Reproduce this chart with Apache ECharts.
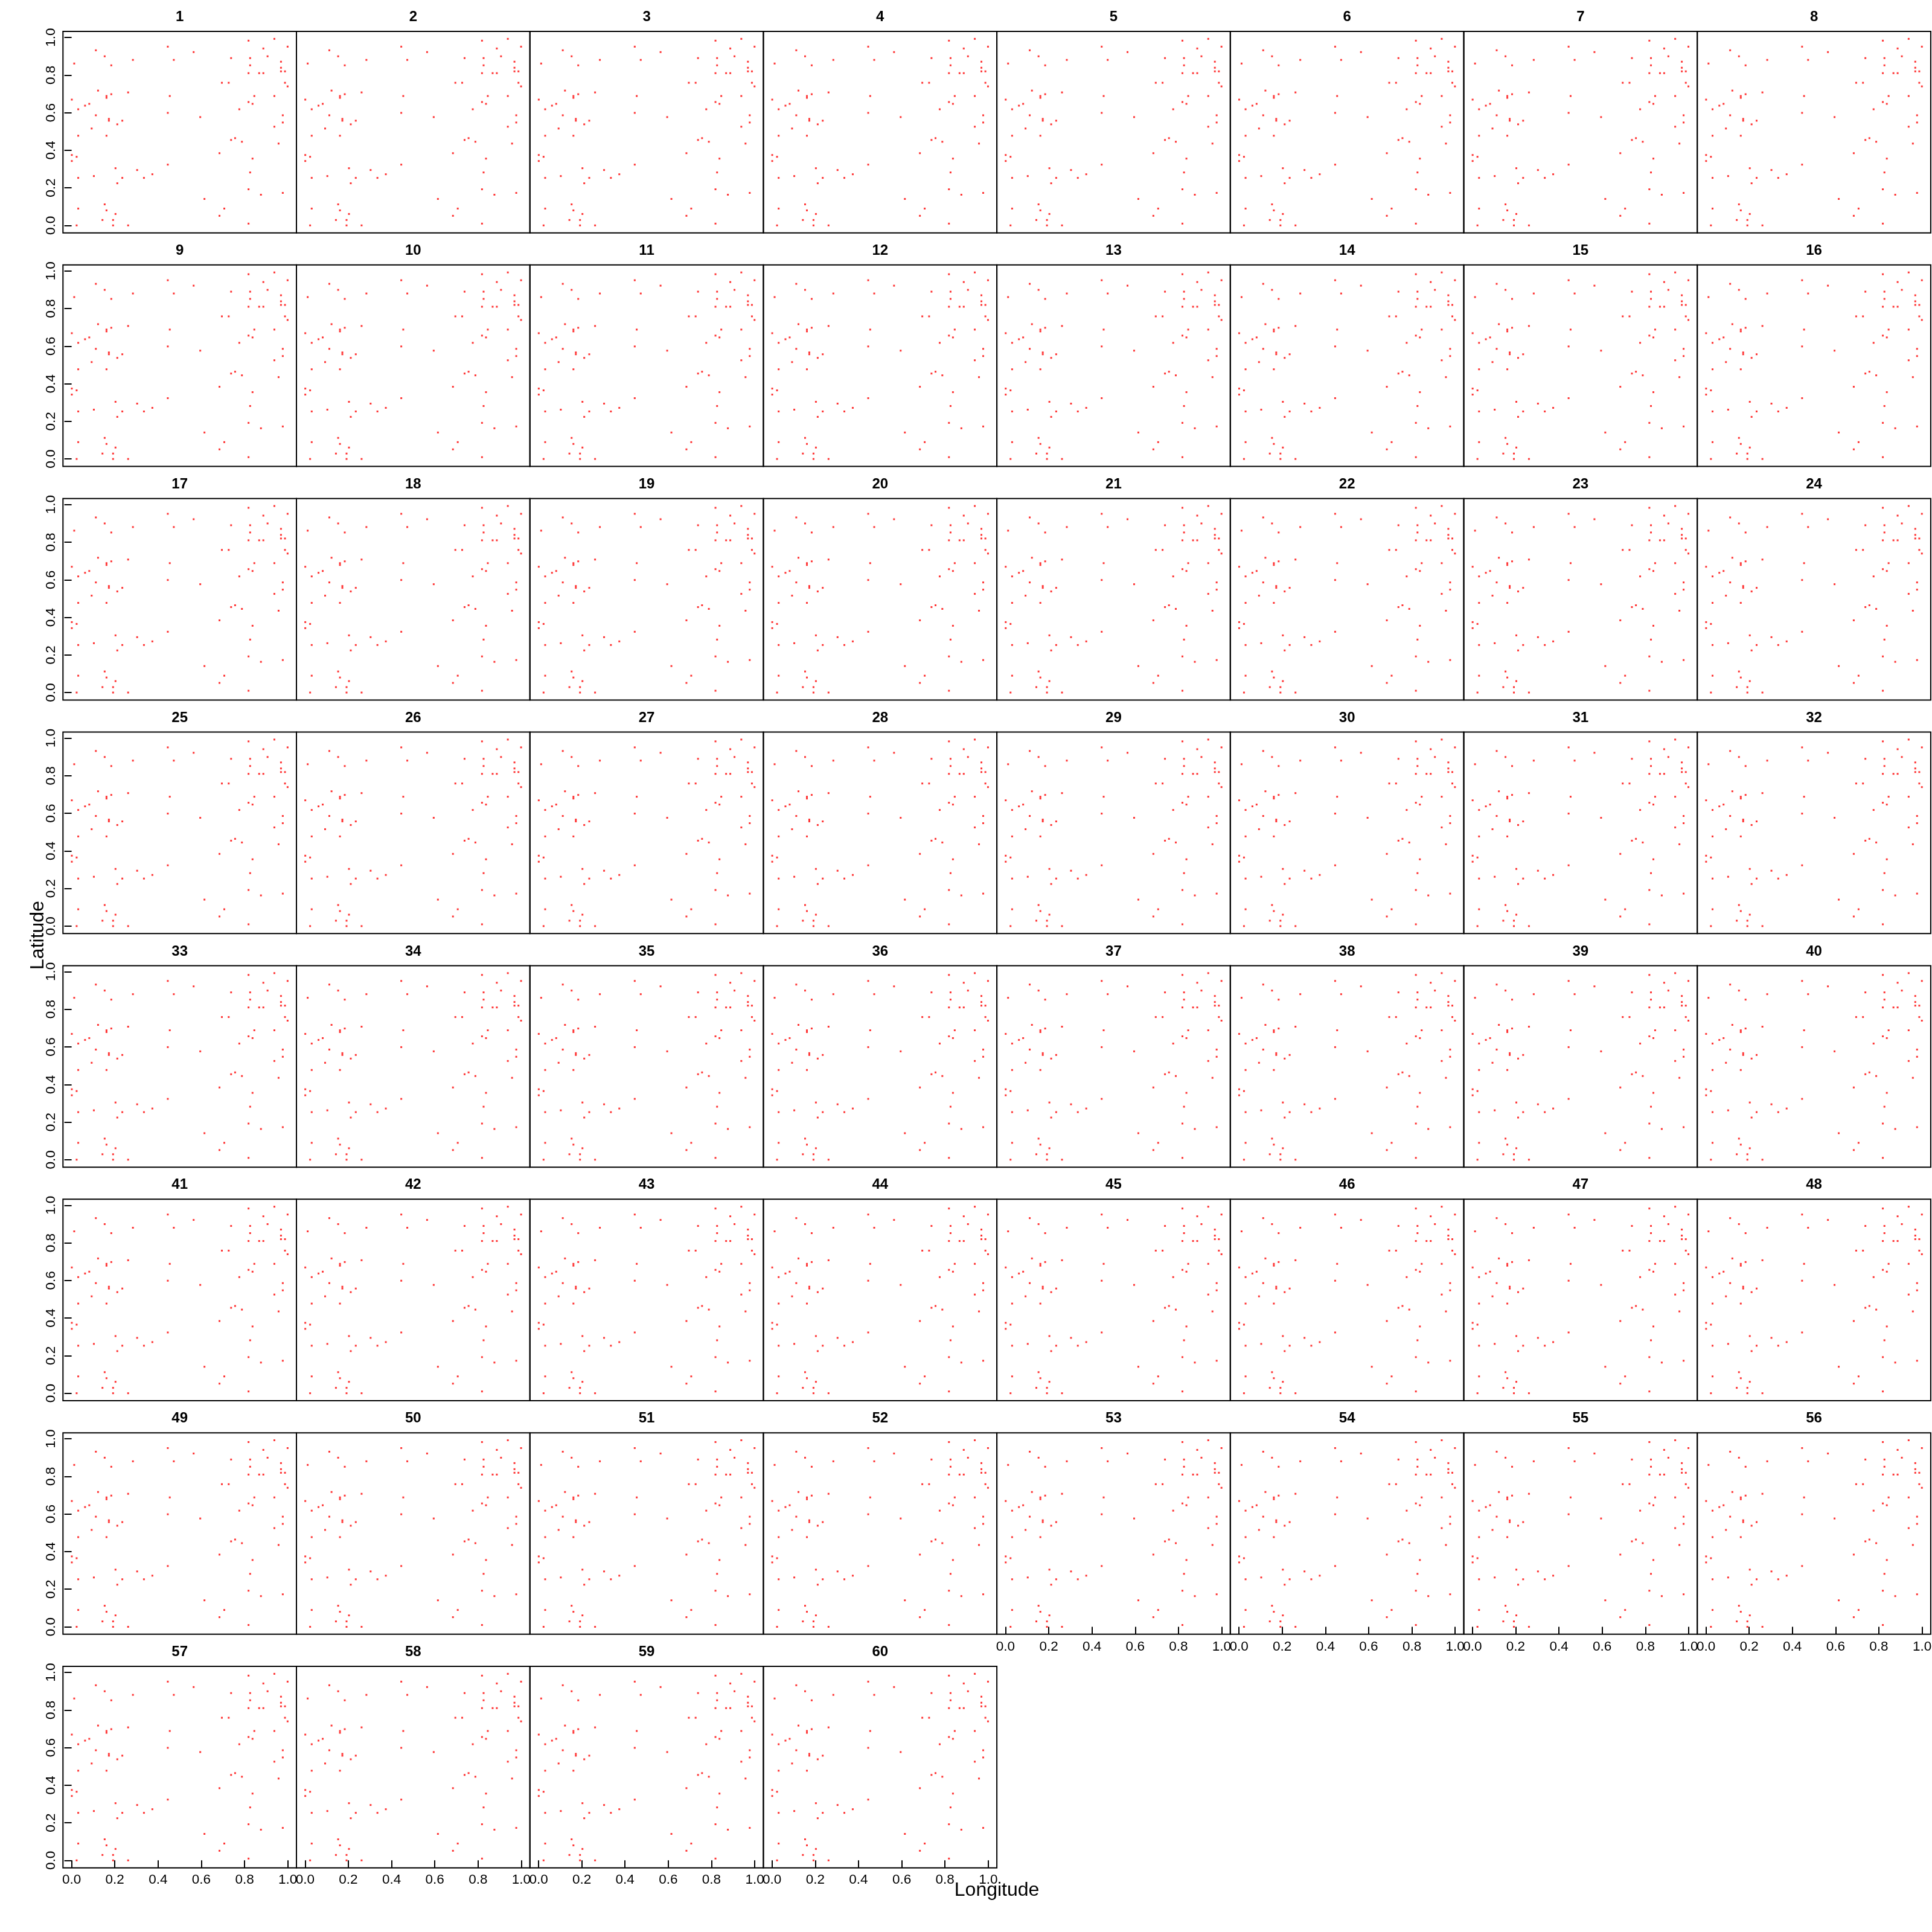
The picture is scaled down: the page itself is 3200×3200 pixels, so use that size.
<!DOCTYPE html>
<html>
<head>
<meta charset="utf-8">
<script src="https://cdn.jsdelivr.net/npm/echarts@6/dist/echarts.min.js"></script>
<style>html,body{margin:0;padding:0;background:#fff}#chart{width:3200px;height:3200px}</style>
</head>
<body>
<div id="chart"></div>
<script>
// Station locations (same in every panel)
const lon = [0.1121,0.1529,0.0120,0.1835,0.2836,0.4449,0.4727,0.5644,0.8184,0.9379,
0.8869,0.9991,0.7377,0.8258,0.9064,0.9685,0.8258,0.9685,0.8184,0.8675,
0.8869,0.9685,0.9870,0.6951,0.7266,0.9870,0.9991,0.1223,0.1613,0.1613,
0.1835,0.2614,0.4541,0.0009,0.0621,0.0816,0.0306,0.1121,0.1724,0.1724,
0.2113,0.2345,0.4449,0.5950,0.0927,0.0306,0.1613,0.8452,0.9379,0.8184,
0.8369,0.7757,0.9768,0.9768,0.9379,0.7377,0.7563,0.7878,0.9574,0.6840,
0.8369,0.0009,0.0232,0.0009,0.2030,0.3031,0.4449,0.0306,0.1029,0.2345,
0.3346,0.3735,0.2113,0.8258,0.8184,0.8758,0.9768,0.6145,0.0306,0.1529,
0.1613,0.2030,0.1427,0.1918,0.0232,0.1918,0.2614,0.7062,0.6840,0.8184];
const lat = [0.9317,0.8997,0.8613,0.8516,0.8805,0.9509,0.8805,0.9221,0.9829,0.9925,
0.9413,0.9509,0.8901,0.8901,0.8997,0.8709,0.8517,0.8388,0.8100,0.8100,
0.8100,0.8196,0.8196,0.7588,0.7588,0.7588,0.7396,0.7172,0.6884,0.6788,
0.6980,0.7076,0.6884,0.6692,0.6371,0.6467,0.6179,0.5859,0.5667,0.5571,
0.5379,0.5571,0.5987,0.5763,0.5155,0.4771,0.4771,0.6884,0.6884,0.6564,
0.6467,0.6179,0.5859,0.5475,0.5251,0.4546,0.4643,0.4450,0.4354,0.3842,
0.3554,0.3746,0.3650,0.3426,0.3042,0.2946,0.3234,0.2529,0.2625,0.2529,
0.2529,0.2721,0.2241,0.2818,0.1921,0.1633,0.1729,0.1409,0.0896,0.1121,
0.0800,0.0608,0.0288,0.0288,0.0000,0.0000,0.0000,0.0896,0.0512,0.0096];
const panelLabels = ['1','2','3','4','5','6','7','8','9','10','11','12','13','14','15','16','17','18','19','20',
'21','22','23','24','25','26','27','28','29','30','31','32','33','34','35','36','37','38','39','40',
'41','42','43','44','45','46','47','48','49','50','51','52','53','54','55','56','57','58','59','60'];
const xTicks = [0, 0.2, 0.4, 0.6, 0.8, 1.0];
const yTicks = [0, 0.2, 0.4, 0.6, 0.8, 1.0];
const xTitle = 'Longitude';
const yTitle = 'Latitude';

// layout
const NCOL = 8;
const L0 = 104.3, PW = 386.7, T0 = 52, RP = 386.86, PH = 333.7;
const FONT = "'Liberation Sans', Arial, sans-serif";
const n = panelLabels.length;

const grids = [], xAxes = [], yAxes = [], series = [], graphics = [];
const pts = lon.map((x, k) => [x, lat[k]]);
for (let i = 0; i < n; i++) {
  const r = Math.floor(i / NCOL), c = i % NCOL;
  const left = L0 + c * PW, top = T0 + r * RP;
  grids.push({left: left, top: top, width: PW, height: PH, show: true,
    borderColor: '#000', borderWidth: 2, backgroundColor: 'transparent',
    containLabel: false, outerBoundsMode: 'none'});
  const showX = (i + NCOL >= n);
  const showY = (c === 0);
  xAxes.push({type: 'value', gridIndex: i, min: -0.04, max: 1.04,
    axisLine: {show: false}, splitLine: {show: false},
    axisTick: {show: showX, customValues: xTicks, length: 12, inside: false, lineStyle: {color: '#000', width: 2}},
    axisLabel: {show: showX, customValues: xTicks, margin: 9, color: '#000', fontSize: 22.5, fontFamily: FONT,
      formatter: v => Number(v).toFixed(1)}});
  yAxes.push({type: 'value', gridIndex: i, min: -0.0397, max: 1.0322,
    axisLine: {show: false}, splitLine: {show: false},
    axisTick: {show: showY, customValues: yTicks, length: 12, inside: false, lineStyle: {color: '#000', width: 2}},
    axisLabel: {show: showY, customValues: yTicks, rotate: 90, margin: 8, color: '#000', fontSize: 22.5, fontFamily: FONT,
      formatter: v => Number(v).toFixed(1)}});
  series.push({type: 'scatter', xAxisIndex: i, yAxisIndex: i, data: pts,
    symbol: 'rect', symbolSize: 3, itemStyle: {color: '#ff0000'}, silent: true, animation: false});
  graphics.push({type: 'text', x: left + PW / 2, y: top - 23.5,
    style: {text: panelLabels[i], font: 'bold 24px ' + FONT, fill: '#000', align: 'center', verticalAlign: 'middle'}});
}
graphics.push({type: 'text', x: 63.5, y: 1549, rotation: Math.PI / 2,
  style: {text: yTitle, font: '32px ' + FONT, fill: '#000', align: 'center', verticalAlign: 'middle'}});
graphics.push({type: 'text', x: L0 + NCOL * PW / 2, y: 3131,
  style: {text: xTitle, font: '32px ' + FONT, fill: '#000', align: 'center', verticalAlign: 'middle'}});

const chart = echarts.init(document.getElementById('chart'), null, {renderer: 'canvas'});
chart.setOption({
  animation: false,
  backgroundColor: '#fff',
  grid: grids, xAxis: xAxes, yAxis: yAxes, series: series, graphic: graphics
});
</script>
</body>
</html>
